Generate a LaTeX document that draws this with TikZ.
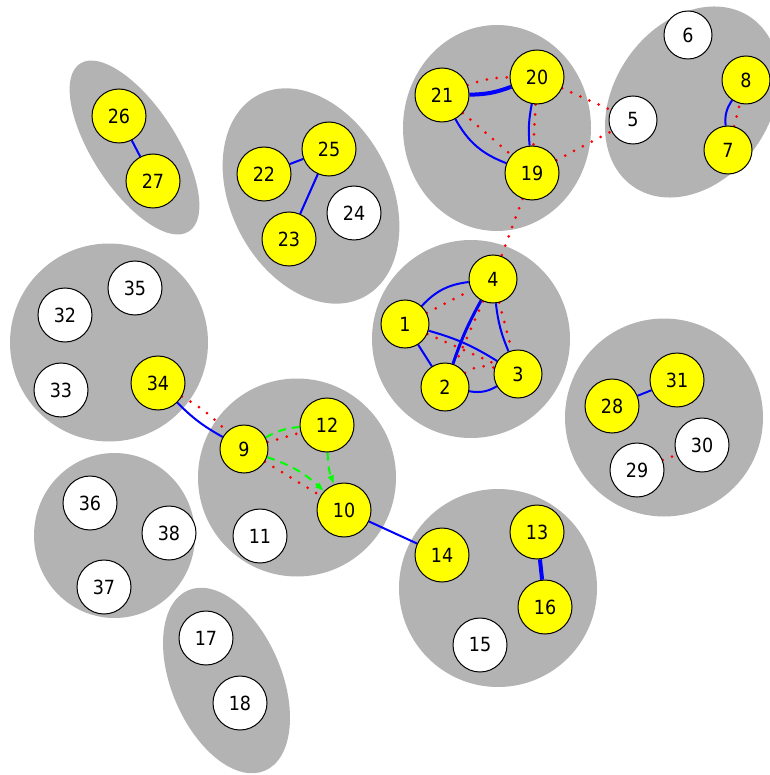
\documentclass[tikz,border=0pt]{standalone}
\usepackage{fontspec}
\usetikzlibrary{arrows.meta}
\newfontfamily\lblfont{DejaVu Sans Condensed}
\definecolor{blobgray}{RGB}{179,179,179}
\definecolor{nodeyellow}{RGB}{255,255,0}
\definecolor{edgeblue}{RGB}{0,0,255}
\definecolor{edgered}{RGB}{255,0,0}
\definecolor{edgegreen}{RGB}{0,255,0}
\pgfdeclarelayer{bg}
\pgfdeclarelayer{edges}
\pgfsetlayers{bg,edges,main}
\tikzset{
  vtx/.style={circle, draw=black, line width=1pt, minimum size=48pt, inner sep=0pt, font=\lblfont\fontsize{19.5}{21}\selectfont},
  vtxb/.style={vtx, minimum size=54pt},
  yel/.style={fill=nodeyellow},
  wht/.style={fill=white},
  blob/.style={fill=blobgray},
  be/.style={edgeblue, line width=2pt},
  bthick/.style={edgeblue, line width=4pt},
  re/.style={edgered, line width=3pt, line cap=round, dash pattern=on 0pt off 10pt},
  ge/.style={edgegreen, line width=2pt, dash pattern=on 8pt off 6pt},
  garrow/.style={ge, -{Latex[length=9pt,width=7pt]}},
}
\begin{document}
\begin{tikzpicture}[x=1pt,y=-1pt]
\useasboundingbox (0,0) rectangle (769,775);
% blobs
\begin{pgfonlayer}{bg}
\fill[blob] (471,339) circle[radius=99pt];
\fill[blob] (497,128) ellipse[x radius=94pt, y radius=103pt];
\fill[blob] (692,102) ellipse[x radius=78pt, y radius=103pt, rotate=-35];
\fill[blob] (134.5,147.5) ellipse[x radius=100pt, y radius=42pt, rotate=-57];
\fill[blob] (311,196) ellipse[x radius=114pt, y radius=80pt, rotate=-62.5];
\fill[blob] (109,342.5) circle[radius=99pt];
\fill[blob] (297,477.5) circle[radius=99pt];
\fill[blob] (498,588) circle[radius=99pt];
\fill[blob] (664,417.5) circle[radius=99pt];
\fill[blob] (114.5,535.5) ellipse[x radius=80.5pt, y radius=82.5pt];
\fill[blob] (226.5,680.5) ellipse[x radius=98pt, y radius=55pt, rotate=-67];
\end{pgfonlayer}
% nodes
\node[vtx,yel] (n1) at (405,324) {1};
\node[vtx,yel] (n2) at (445,387) {2};
\node[vtx,yel] (n3) at (518,374) {3};
\node[vtx,yel] (n4) at (493,279) {4};
\node[vtx,wht] (n5) at (633,120) {5};
\node[vtx,wht] (n6) at (688,35) {6};
\node[vtx,yel] (n7) at (728,150) {7};
\node[vtx,yel] (n8) at (746,80) {8};
\node[vtx,yel] (n9) at (244,449) {9};
\node[vtxb,yel] (n10) at (344,510) {10};
\node[vtxb,wht] (n11) at (260,536) {11};
\node[vtxb,yel] (n12) at (327,425) {12};
\node[vtxb,yel] (n13) at (537,532) {13};
\node[vtxb,yel] (n14) at (442,555) {14};
\node[vtxb,wht] (n15) at (480,645) {15};
\node[vtxb,yel] (n16) at (545,607) {16};
\node[vtxb,wht] (n17) at (206,638) {17};
\node[vtxb,wht] (n18) at (240,703) {18};
\node[vtxb,yel] (n19) at (532,173) {19};
\node[vtxb,yel] (n20) at (537,77) {20};
\node[vtxb,yel] (n21) at (442,95) {21};
\node[vtxb,yel] (n22) at (264,174) {22};
\node[vtxb,yel] (n23) at (289,239) {23};
\node[vtxb,wht] (n24) at (354,213) {24};
\node[vtxb,yel] (n25) at (329,149) {25};
\node[vtxb,yel] (n26) at (119,116) {26};
\node[vtxb,yel] (n27) at (153,181) {27};
\node[vtxb,yel] (n28) at (612,406) {28};
\node[vtxb,wht] (n29) at (637,470) {29};
\node[vtxb,wht] (n30) at (702,445) {30};
\node[vtxb,yel] (n31) at (677,380) {31};
\node[vtxb,wht] (n32) at (65,315) {32};
\node[vtxb,wht] (n33) at (61,390) {33};
\node[vtxb,yel] (n34) at (158,383) {34};
\node[vtxb,wht] (n35) at (135,288) {35};
\node[vtxb,wht] (n36) at (90,503) {36};
\node[vtxb,wht] (n37) at (104,587) {37};
\node[vtxb,wht] (n38) at (169,533) {38};
% edges
\begin{pgfonlayer}{edges}
% cluster 1-4
\draw[be] (n1) to[bend left=20] (n4);
\draw[be] (n1) -- (n2);
\draw[be] (n1) to[bend left=8] (n3);
\draw[edgeblue, line width=3pt] (n2) to[bend left=5] (n4);
\draw[be] (n4) to[bend right=8] (n3);
\draw[be] (n2) to[bend right=20] (n3);
\draw[re] (n1) -- (n4);
\draw[re] (n1) -- (n3);
\draw[re] (n4) -- (n2);
\draw[re] (n4) -- (n3);
\draw[re] (n2) to[bend left=25] (n3);
\draw[re] (n19) -- (n4);
% cluster 19-21
\draw[bthick] (n21) to[bend right=10] (n20);
\draw[be] (n20) to[bend right=8] (n19);
\draw[be] (n21) to[bend right=20] (n19);
\draw[re] (n21) to[bend left=10] (n20);
\draw[re] (n21) -- (n19);
\draw[re] (n20) -- (n19);
\draw[re] (n20) -- (n5);
\draw[re] (n19) -- (n5);
% 7-8
\draw[be] (n7) to[bend left=20] (n8);
\draw[re] (n7) -- (n8);
% 9-12
\draw[be] (n34) to[bend right=8] (n9);
\draw[re] (n34) to[bend left=8] (n9);
\draw[re] (n9) -- (n12);
\draw[re] (n9) -- (n10);
\draw[ge] (n9) to[bend left=12] (n12);
\draw[garrow] (n9) to[bend left=12] (n10);
\draw[garrow] (n12) to[bend right=10] (n10);
\draw[be] (n10) -- (n14);
\draw[bthick] (n13) -- (n16);
% others
\draw[be] (n26) -- (n27);
\draw[be] (n22) -- (n25);
\draw[be] (n23) -- (n25);
\draw[be] (n28) -- (n31);
\draw[re] (n29) -- (n30);
\end{pgfonlayer}
\end{tikzpicture}
\end{document}
